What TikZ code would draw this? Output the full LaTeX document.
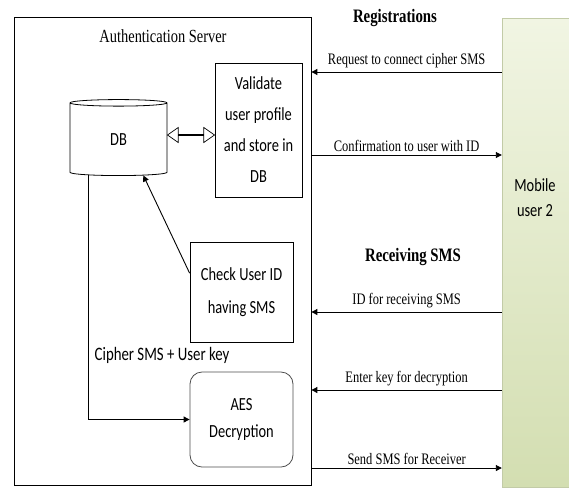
\documentclass[tikz,border=0pt]{standalone}
\usepackage{fontspec}
\setmainfont[FakeStretch=0.78]{Liberation Serif}
\newfontfamily\boxfont[FakeStretch=0.78]{Carlito}
\usetikzlibrary{shapes.geometric,shapes.arrows,arrows.meta,calc}
\definecolor{mobtop}{HTML}{F1F5E3}
\definecolor{mobbot}{HTML}{D3DEB1}

\begin{document}
\begin{tikzpicture}[x=1pt,y=-1pt,
  box/.style={draw,line width=0.8pt,align=center,font=\boxfont\fontsize{18.5}{31}\selectfont},
  msg/.style={line width=0.9pt,-{Triangle[length=6pt,width=6pt]},font=\fontsize{16}{18}\selectfont},
  head/.style={font=\bfseries\fontsize{19}{21}\selectfont}
]
  \useasboundingbox (0,0) rectangle (569,496);
  \node[draw,line width=0.8pt,minimum width=297pt,minimum height=468pt] (srv) at (162.5,251) {};
  \node[minimum width=67pt,minimum height=469pt,top color=mobtop,bottom color=mobbot,draw=mobbot!80!gray] (mob) at (535.5,252.5) {};
  \node[font=\fontsize{18.5}{20}\selectfont] (srvtxt) at (163,36) {Authentication Server};
  \node[font=\boxfont\fontsize{18.5}{25}\selectfont,align=center] (mobtxt) at (535,198) {Mobile\\user 2};
  \node[head] (reg) at (395,18) {Registrations};
  \node[head] (rcv) at (413,257) {Receiving SMS};
  \node[cylinder,draw,line width=0.8pt,shape border rotate=90,shape aspect=0.28,minimum width=97pt,minimum height=76pt,
        font=\boxfont\fontsize{18.5}{20}\selectfont] (db) at (118.5,140) {DB};
  \node[box,minimum width=87pt,minimum height=134pt] (val) at (258.5,130) {Validate\\user profile\\and store in\\DB};
  \node[box,minimum width=103pt,minimum height=100pt,font=\boxfont\fontsize{18.5}{33}\selectfont] (chk) at (241.5,292) {Check User ID\\having SMS};
  \node[box,draw=black!70,rounded corners=12pt,minimum width=103pt,minimum height=95pt,
        font=\boxfont\fontsize{18.5}{27}\selectfont] (aes) at (241.5,419.5) {AES\\Decryption};
  \node[font=\boxfont\fontsize{19}{21}\selectfont] (key) at (162,355) {Cipher SMS + User key};
  % hollow two-way arrow between DB and validation
  \node[double arrow,draw,line width=0.7pt,inner sep=0pt,minimum height=47pt,minimum width=15pt,
        double arrow head extend=4.5pt,double arrow tip angle=70] (lnk) at ($(db.east)!0.5!(val.west)$) {};
  \draw[msg] (chk.160) -- (db.-55);
  \draw[msg] (db.-130) |- (aes.west);
  \draw[msg] (mob.west |- 0,72) -- node[above]{Request to connect cipher SMS} (srv.east |- 0,72);
  \draw[msg] (srv.east |- 0,155) -- node[above]{Confirmation to user with ID} (mob.west |- 0,155);
  \draw[msg] (mob.west |- 0,312) -- node[above]{ID for receiving SMS} (srv.east |- 0,312);
  \draw[msg] (mob.west |- 0,390) -- node[above]{Enter key for decryption} (srv.east |- 0,390);
  \draw[msg] (srv.east |- 0,468) -- node[above]{Send SMS for Receiver} (mob.west |- 0,468);
\end{tikzpicture}
\end{document}
